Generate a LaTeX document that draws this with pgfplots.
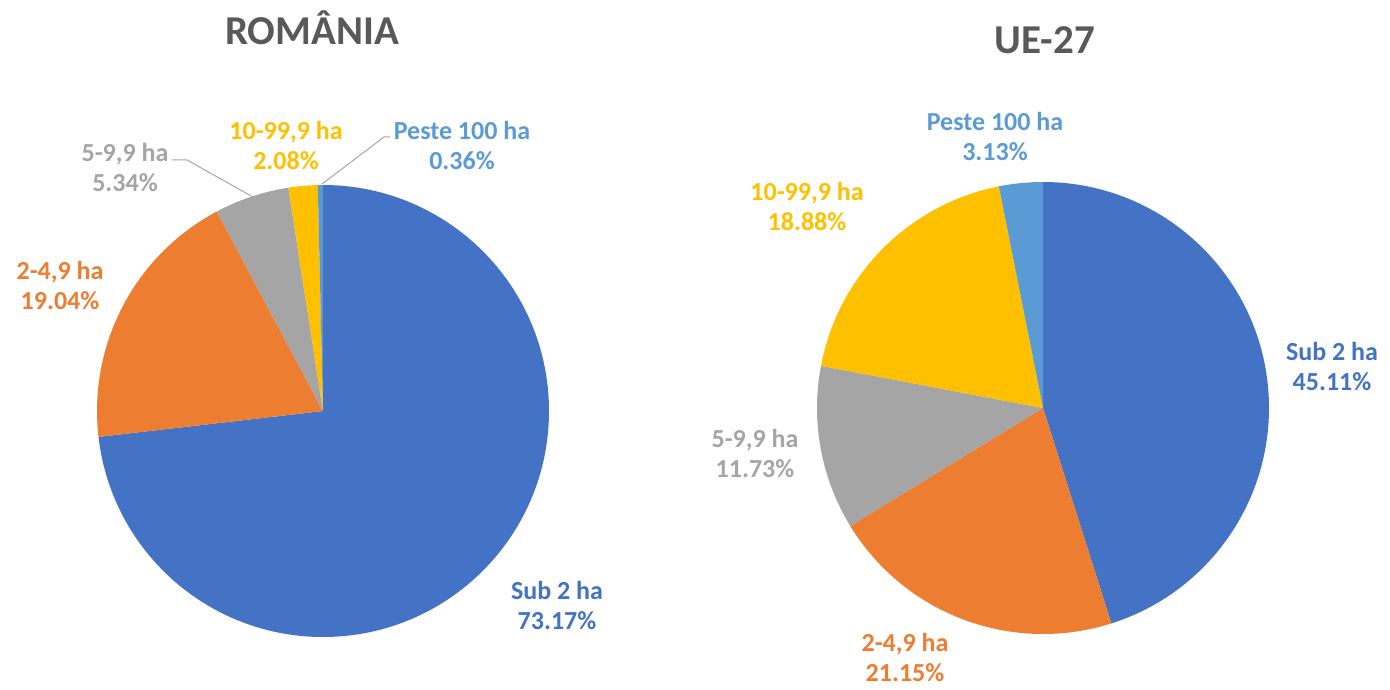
\documentclass[border=0pt]{standalone}
\usepackage{fontspec}
\setmainfont{Carlito}
\usepackage{pgfplots}
\usepackage{pgfplotstable}
\pgfplotsset{compat=1.18}

\definecolor{c0}{HTML}{4472C4}
\definecolor{c1}{HTML}{ED7D31}
\definecolor{c2}{HTML}{A5A5A5}
\definecolor{c3}{HTML}{FFC000}
\definecolor{c4}{HTML}{5B9BD5}
\definecolor{titlegray}{HTML}{595959}
\definecolor{leadergray}{HTML}{A6A6A6}

% share in %, label centre (pixel coords)
\pgfplotstableread[col sep=semicolon]{
name;share;lx;ly
Sub 2 ha;73.17;557;605
2-4,9 ha;19.04;60;285
5-9,9 ha;5.34;125;167
10-99,9 ha;2.08;286;145
Peste 100 ha;0.36;462;145
}\romania

\pgfplotstableread[col sep=semicolon]{
name;share;lx;ly
Sub 2 ha;45.11;1332;366
2-4,9 ha;21.15;905;657
5-9,9 ha;11.73;755;453
10-99,9 ha;18.88;807;206
Peste 100 ha;3.13;995;136
}\uedata

\newcommand\drawpie[4]{%
  \xdef\cum{0}%
  \foreach \i in {0,...,4}{%
    \pgfplotstablegetelem{\i}{share}\of{#1}\let\v\pgfplotsretval
    \pgfplotstablegetelem{\i}{lx}\of{#1}\let\lx\pgfplotsretval
    \pgfplotstablegetelem{\i}{ly}\of{#1}\let\ly\pgfplotsretval
    \pgfplotstablegetelem{\i}{name}\of{#1}\let\nm\pgfplotsretval
    \pgfmathsetmacro\a{90-3.6*\cum}%
    \pgfmathsetmacro\b{90-3.6*(\cum+\v)}%
    \fill[c\i] (axis cs:#2,#3) -- ++(\a:#4) arc[start angle=\a, end angle=\b, radius=#4] -- cycle;
    \node[text=c\i, font=\fontsize{26}{30}\selectfont\bfseries, align=center, anchor=center, inner sep=1pt]
      at (axis cs:\lx,\ly) {\nm\\\v\%};
    \pgfmathsetmacro\newcum{\cum+\v}%
    \xdef\cum{\newcum}%
  }%
}

\begin{document}
\begin{tikzpicture}
\begin{axis}[
  x=1pt, y=1pt,
  xmin=0, xmax=1390, ymin=0, ymax=690,
  y dir=reverse,
  hide axis, clip=false,
]
\pgfplotsextra{%
  \path (axis cs:0,0) rectangle (axis cs:1390,690);
  \drawpie{\romania}{323}{411}{226pt}
  \drawpie{\uedata}{1043}{408}{226pt}
  \draw[leadergray, line width=1pt] (axis cs:172,160) -- (axis cs:187,160) -- (axis cs:253,197);
  \draw[leadergray, line width=1pt] (axis cs:390,137) -- (axis cs:384,137) -- (axis cs:322,184);
  \node[text=titlegray, font=\fontsize{41}{48}\selectfont\bfseries] at (axis cs:312,28) {ROMÂNIA};
  \node[text=titlegray, font=\fontsize{41}{48}\selectfont\bfseries] at (axis cs:1045,40) {UE-27};
}
\end{axis}
\end{tikzpicture}
\end{document}
